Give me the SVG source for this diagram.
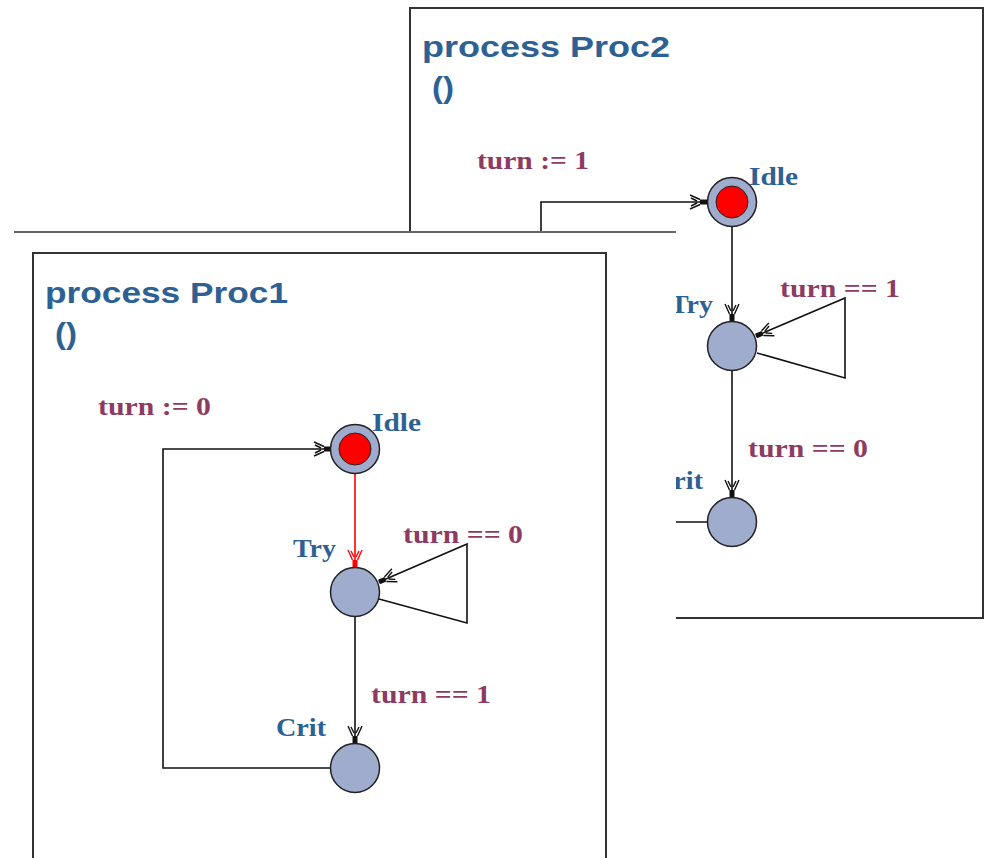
<svg xmlns="http://www.w3.org/2000/svg" width="986" height="858" viewBox="0 0 986 858">
<style>
.title{font-family:"Liberation Sans",Arial,sans-serif;font-weight:bold;font-size:30px;fill:#2e6193}
.loc{font-family:"Liberation Serif","Times New Roman",serif;font-weight:bold;font-size:25px;fill:#2e6193}
.guard{font-family:"Liberation Serif","Times New Roman",serif;font-weight:bold;font-size:25px;fill:#8e3b62}
.frame{fill:none;stroke:#333;stroke-width:2}
.node{fill:#a0acce;stroke:#222;stroke-width:1.5}
.init{fill:#ff0000;stroke:#222;stroke-width:1}
.edge{fill:none;stroke:#111;stroke-width:1.6;marker-end:url(#ab)}
.edge2{fill:none;stroke:#111;stroke-width:1.6}
.red{fill:none;stroke:#ff0000;stroke-width:1.6;marker-end:url(#ar)}
</style>
<defs>
<marker id="ab" viewBox="-20 -9 22 18" refX="0" refY="0" markerWidth="22" markerHeight="18" markerUnits="userSpaceOnUse" orient="auto">
<rect x="-7" y="-2.5" width="7" height="5" fill="#111"/>
<path d="M-7,-2.5 L-17,-7 M-7,2.5 L-17,7 M-10,-1 L-16,-4 M-10,1 L-16,4" stroke="#111" stroke-width="1.4" fill="none"/>
</marker>
<marker id="ar" viewBox="-20 -9 22 18" refX="0" refY="0" markerWidth="22" markerHeight="18" markerUnits="userSpaceOnUse" orient="auto">
<rect x="-7" y="-2.5" width="7" height="5" fill="#ff0000"/>
<path d="M-7,-2.5 L-17,-7 M-7,2.5 L-17,7 M-10,-1 L-16,-4 M-10,1 L-16,4" stroke="#ff0000" stroke-width="1.4" fill="none"/>
</marker>
</defs>
<rect x="0" y="0" width="986" height="858" fill="#fff"/>

<!-- Proc2 (back window) -->
<g id="proc2">
<rect class="frame" x="410" y="8" width="573" height="610" fill="#fff"/>
<text class="title" x="422" y="57" textLength="248" lengthAdjust="spacingAndGlyphs">process Proc2</text>
<text class="title" x="432" y="98" textLength="22" lengthAdjust="spacingAndGlyphs">()</text>
<g id="proc2-connectors">
<path class="edge" d="M541,232 L541,202 L707,202"/>
<path class="edge" d="M732,227 L732,321"/>
<path class="edge" d="M757,353 L845,378 L845,298 L756,336"/>
<path class="edge" d="M732,371 L732,497"/>
<path class="edge2" d="M660,522 L707,522"/>
<text class="guard" x="477" y="169" textLength="112" lengthAdjust="spacingAndGlyphs">turn := 1</text>
<text class="guard" x="780" y="297" textLength="120" lengthAdjust="spacingAndGlyphs">turn == 1</text>
<text class="guard" x="748" y="457" textLength="120" lengthAdjust="spacingAndGlyphs">turn == 0</text>
</g>
<g id="proc2-idle">
<circle class="node" cx="732" cy="202" r="24.5"/>
<circle class="init" cx="732" cy="202" r="16"/>
<text class="loc" x="749" y="185" textLength="49" lengthAdjust="spacingAndGlyphs">Idle</text>
</g>
<g id="proc2-try">
<circle class="node" cx="732" cy="346" r="24.5"/>
<text class="loc" x="670" y="313" textLength="43" lengthAdjust="spacingAndGlyphs">Try</text>
</g>
<g id="proc2-crit">
<circle class="node" cx="732" cy="522" r="24.5"/>
<text class="loc" x="653" y="489" textLength="50" lengthAdjust="spacingAndGlyphs">Crit</text>
</g>
</g>

<!-- front window -->
<g id="front-window">
<rect x="14" y="232" width="662" height="630" fill="#fff"/>
<line x1="14" y1="232" x2="676" y2="232" stroke="#666" stroke-width="2"/>
</g>

<!-- Proc1 -->
<g id="proc1">
<rect class="frame" x="33" y="253" width="573" height="620" fill="#fff"/>
<text class="title" x="45" y="303" textLength="243" lengthAdjust="spacingAndGlyphs">process Proc1</text>
<text class="title" x="55" y="344" textLength="22" lengthAdjust="spacingAndGlyphs">()</text>
<g id="proc1-connectors">
<path class="edge" d="M331,768 L163,768 L163,449 L331,449"/>
<path class="red" d="M355,474 L355,567"/>
<path class="edge" d="M379,599 L467,623 L467,544 L379,582"/>
<path class="edge" d="M355,617 L355,743"/>
<text class="guard" x="98" y="415" textLength="113" lengthAdjust="spacingAndGlyphs">turn := 0</text>
<text class="guard" x="403" y="543" textLength="120" lengthAdjust="spacingAndGlyphs">turn == 0</text>
<text class="guard" x="371" y="703" textLength="120" lengthAdjust="spacingAndGlyphs">turn == 1</text>
</g>
<g id="proc1-idle">
<circle class="node" cx="355" cy="449" r="24.5"/>
<circle class="init" cx="355" cy="449" r="16"/>
<text class="loc" x="372" y="431" textLength="49" lengthAdjust="spacingAndGlyphs">Idle</text>
</g>
<g id="proc1-try">
<circle class="node" cx="355" cy="592" r="24.5"/>
<text class="loc" x="293" y="557" textLength="43" lengthAdjust="spacingAndGlyphs">Try</text>
</g>
<g id="proc1-crit">
<circle class="node" cx="355" cy="768" r="24.5"/>
<text class="loc" x="276" y="736" textLength="50" lengthAdjust="spacingAndGlyphs">Crit</text>
</g>
</g>
</svg>
